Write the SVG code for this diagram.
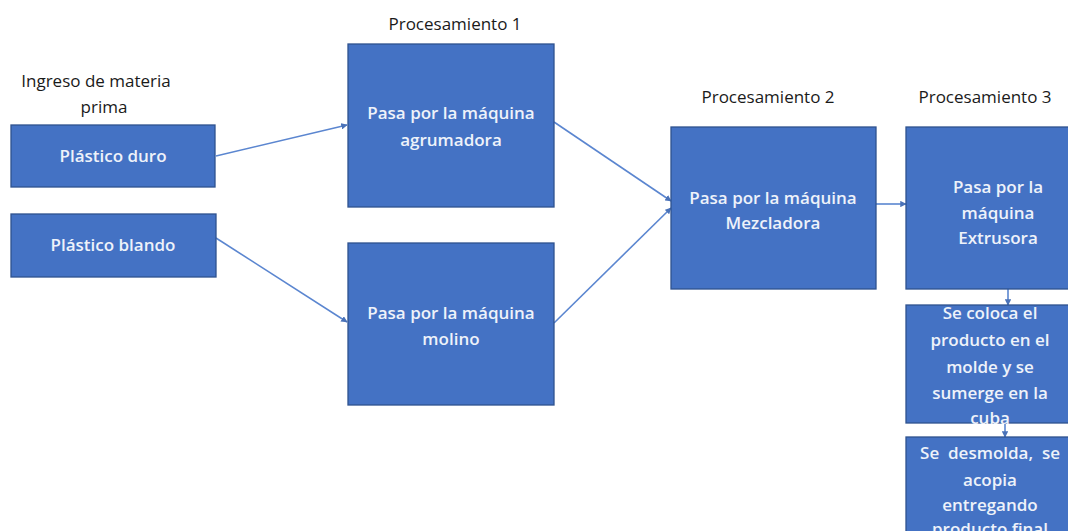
<svg xmlns="http://www.w3.org/2000/svg" width="1068" height="531" viewBox="0 0 1068 531">
<defs>
<style>
.box{fill:#4472C4;stroke:#2F528F;stroke-width:1.3}
.bt{font-family:"Open Sans","Noto Sans","Liberation Sans",sans-serif;font-size:17px;font-weight:600;fill:#EEF2FA;text-anchor:middle}
.lb{font-family:"Open Sans","Noto Sans","Liberation Sans",sans-serif;font-size:17px;fill:#1a1a1a;text-anchor:middle}
.cn{stroke:#5B86D0;stroke-width:1.6;fill:none;marker-end:url(#ah)}
</style>
<marker id="ah" viewBox="0 0 10 10" refX="9" refY="5" markerWidth="4" markerHeight="4" orient="auto" markerUnits="strokeWidth">
<path d="M0,0 L10,5 L0,10 z" fill="#4A72B8"/>
</marker>
</defs>
<rect width="1068" height="531" fill="#ffffff"/>
<g id="labels">
<text class="lb" x="96" y="87">Ingreso de materia</text>
<text class="lb" x="104" y="113">prima</text>
<text class="lb" x="455" y="30">Procesamiento 1</text>
<text class="lb" x="768" y="103">Procesamiento 2</text>
<text class="lb" x="985" y="103">Procesamiento 3</text>
</g>
<g id="connectors">
<line class="cn" x1="216" y1="156" x2="347" y2="125"/>
<line class="cn" x1="216" y1="238" x2="347" y2="322"/>
<line class="cn" x1="554" y1="122" x2="671" y2="201"/>
<line class="cn" x1="554" y1="323" x2="671" y2="208"/>
<line class="cn" x1="876" y1="204" x2="906" y2="204"/>
<line class="cn" x1="1008" y1="289" x2="1008" y2="305"/>
<line class="cn" x1="1005" y1="423" x2="1005" y2="437"/>
</g>
<g id="plastico-duro">
<rect class="box" x="11" y="125" width="204" height="62"/>
<text class="bt" x="113" y="162">Plástico duro</text>
</g>
<g id="plastico-blando">
<rect class="box" x="11" y="214" width="205" height="63"/>
<text class="bt" x="113" y="251">Plástico blando</text>
</g>
<g id="agrumadora">
<rect class="box" x="348" y="44" width="206" height="163"/>
<text class="bt" x="451" y="119">Pasa por la máquina</text>
<text class="bt" x="451" y="146">agrumadora</text>
</g>
<g id="molino">
<rect class="box" x="348" y="243" width="206" height="162"/>
<text class="bt" x="451" y="319">Pasa por la máquina</text>
<text class="bt" x="451" y="345">molino</text>
</g>
<g id="mezcladora">
<rect class="box" x="671" y="127" width="205" height="162"/>
<text class="bt" x="773" y="204">Pasa por la máquina</text>
<text class="bt" x="773" y="229">Mezcladora</text>
</g>
<g id="extrusora">
<rect class="box" x="906" y="127" width="184" height="162"/>
<text class="bt" x="998" y="193">Pasa por la</text>
<text class="bt" x="998" y="219">máquina</text>
<text class="bt" x="998" y="244">Extrusora</text>
</g>
<g id="molde">
<rect class="box" x="906" y="305" width="168" height="118"/>
<text class="bt" x="990" y="319">Se coloca el</text>
<text class="bt" x="990" y="346">producto en el</text>
<text class="bt" x="990" y="373">molde y se</text>
<text class="bt" x="990" y="399">sumerge en la</text>
<text class="bt" x="990" y="424">cuba</text>
</g>
<g id="desmolda">
<rect class="box" x="906" y="437" width="168" height="110"/>
<text class="bt" x="990" y="459" xml:space="preserve">Se  desmolda,  se</text>
<text class="bt" x="990" y="486">acopia</text>
<text class="bt" x="990" y="511">entregando</text>
<text class="bt" x="990" y="535">producto final</text>
</g>
</svg>
